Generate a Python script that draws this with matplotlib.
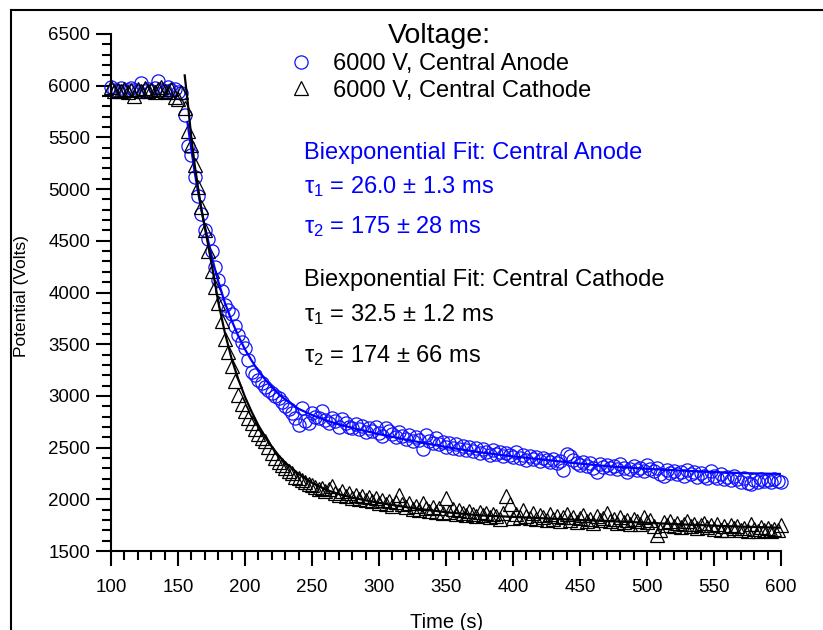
import matplotlib
matplotlib.use('Agg')
from matplotlib import pyplot as plt
from matplotlib.ticker import MultipleLocator
from matplotlib.lines import Line2D

plt.rcParams['font.family'] = ['Liberation Sans', 'DejaVu Sans']
plt.rcParams['mathtext.fontset'] = 'custom'
plt.rcParams['mathtext.rm'] = 'Liberation Sans'
plt.rcParams['mathtext.it'] = 'Liberation Sans'

# sample times (s), shared by both runs
time_s = [
    100, 102.5, 105, 107.5, 110, 112.5, 115, 117.5, 120, 122.5,
    125, 127.5, 130, 132.5, 135, 137.5, 140, 142.5, 145, 147.5,
    150, 152.5, 155, 157.5, 160, 162.5, 165, 167.5, 170, 172.5,
    175, 177.5, 180, 182.5, 185, 187.5, 190, 192.5, 195, 197.5,
    200, 202.5, 205, 207.5, 210, 212.5, 215, 217.5, 220, 222.5,
    225, 227.5, 230, 232.5, 235, 237.5, 240, 242.5, 245, 247.5,
    250, 252.5, 255, 257.5, 260, 262.5, 265, 267.5, 270, 272.5,
    275, 277.5, 280, 282.5, 285, 287.5, 290, 292.5, 295, 297.5,
    300, 302.5, 305, 307.5, 310, 312.5, 315, 317.5, 320, 322.5,
    325, 327.5, 330, 332.5, 335, 337.5, 340, 342.5, 345, 347.5,
    350, 352.5, 355, 357.5, 360, 362.5, 365, 367.5, 370, 372.5,
    375, 377.5, 380, 382.5, 385, 387.5, 390, 392.5, 395, 397.5,
    400, 402.5, 405, 407.5, 410, 412.5, 415, 417.5, 420, 422.5,
    425, 427.5, 430, 432.5, 435, 437.5, 440, 442.5, 445, 447.5,
    450, 452.5, 455, 457.5, 460, 462.5, 465, 467.5, 470, 472.5,
    475, 477.5, 480, 482.5, 485, 487.5, 490, 492.5, 495, 497.5,
    500, 502.5, 505, 507.5, 510, 512.5, 515, 517.5, 520, 522.5,
    525, 527.5, 530, 532.5, 535, 537.5, 540, 542.5, 545, 547.5,
    550, 552.5, 555, 557.5, 560, 562.5, 565, 567.5, 570, 572.5,
    575, 577.5, 580, 582.5, 585, 587.5, 590, 592.5, 595, 597.5,
    600,
]

anode_v = [
    5985, 5960, 5950, 5975, 5945, 5960, 5980, 5955, 5945, 6030,
    5950, 5965, 5945, 5975, 6050, 5960, 5945, 5985, 5955, 5965,
    5940, 5930, 5720, 5420, 5330, 5120, 4930, 4760, 4600, 4520,
    4400, 4250, 4120, 4010, 3880, 3830, 3790, 3680, 3590, 3520,
    3460, 3350, 3230, 3200, 3150, 3120, 3090, 3060, 3030, 3000,
    2980, 2940, 2900, 2870, 2830, 2790, 2720, 2880, 2760, 2740,
    2830, 2800, 2790, 2850, 2770, 2740, 2790, 2760, 2700, 2780,
    2740, 2700, 2690, 2730, 2680, 2710, 2650, 2690, 2660, 2700,
    2640, 2610, 2690, 2660, 2630, 2600, 2650, 2610, 2580, 2620,
    2560, 2600, 2570, 2490, 2620, 2560, 2540, 2590, 2530, 2550,
    2510, 2540, 2500, 2530, 2490, 2520, 2480, 2510, 2470, 2500,
    2450, 2490, 2460, 2430, 2480, 2440, 2460, 2420, 2450, 2430,
    2410, 2460, 2400, 2430, 2380, 2420, 2390, 2410, 2370, 2400,
    2380, 2360, 2390, 2350, 2370, 2280, 2440, 2420, 2380, 2350,
    2330, 2360, 2320, 2350, 2300, 2260, 2340, 2310, 2330, 2300,
    2320, 2290, 2340, 2300, 2260, 2290, 2320, 2280, 2300, 2270,
    2330, 2290, 2270, 2300, 2240, 2230, 2280, 2250, 2270, 2240,
    2260, 2230, 2280, 2240, 2260, 2220, 2250, 2230, 2210, 2270,
    2230, 2210, 2240, 2200, 2220, 2190, 2230, 2200, 2170, 2210,
    2160, 2150, 2190, 2170, 2200, 2180, 2190, 2170, 2200, 2180,
    2170,
]

cathode_v = [
    5990, 5950, 5960, 5945, 5970, 5940, 5955, 5900, 5965, 5950,
    5975, 5945, 5960, 5935, 5970, 5990, 5950, 5940, 5965, 5895,
    5870, 5940, 5780, 5560, 5430, 5230, 5020, 4830, 4600, 4400,
    4210, 4050, 3900, 3720, 3550, 3420, 3290, 3140, 3010, 2920,
    2850, 2790, 2740, 2680, 2630, 2590, 2560, 2510, 2450, 2400,
    2360, 2330, 2300, 2270, 2250, 2220, 2210, 2190, 2170, 2150,
    2140, 2120, 2100, 2110, 2080, 2100, 2130, 2060, 2040, 2080,
    2030, 2060, 2010, 2040, 2000, 2030, 1990, 2020, 1980, 2010,
    1960, 1990, 1950, 1980, 1940, 1970, 2040, 1950, 1930, 1960,
    1910, 1940, 1900, 1960, 1920, 1890, 1930, 1880, 1920, 1870,
    2010, 1880, 1910, 1860, 1900, 1870, 1850, 1890, 1860, 1840,
    1880, 1850, 1870, 1830, 1860, 1840, 1810, 1870, 2030, 1950,
    1820, 1860, 1830, 1900, 1840, 1820, 1870, 1810, 1850, 1830,
    1800, 1860, 1810, 1840, 1790, 1830, 1860, 1800, 1830, 1780,
    1820, 1850, 1790, 1810, 1770, 1840, 1800, 1820, 1870, 1790,
    1810, 1770, 1830, 1780, 1800, 1760, 1810, 1790, 1760, 1830,
    1780, 1800, 1740, 1650, 1700, 1780, 1750, 1790, 1740, 1770,
    1730, 1760, 1790, 1740, 1760, 1720, 1750, 1770, 1730, 1750,
    1710, 1760, 1700, 1740, 1700, 1750, 1720, 1740, 1700, 1720,
    1690, 1760, 1710, 1690, 1730, 1700, 1720, 1690, 1710, 1700,
    1750,
]

# biexponential fit curves
anode_fit_t = [157, 160, 162.5, 165, 167.5, 170, 172.5, 175, 177.5, 180,
               185, 190, 195, 200, 205, 210, 215, 220, 225, 230,
               240, 250, 260, 270, 280, 290, 300, 325, 350, 375,
               400, 425, 450, 475, 500, 525, 550, 575, 600]
anode_fit_v = [5650, 5380, 5160, 4970, 4800, 4640, 4500, 4360, 4230, 4110,
               3900, 3730, 3580, 3450, 3340, 3240, 3160, 3085, 3020, 2965,
               2875, 2815, 2765, 2725, 2690, 2660, 2630, 2565, 2505, 2455,
               2415, 2380, 2345, 2315, 2295, 2278, 2263, 2252, 2245]

cathode_fit_t = [155, 157.5, 160, 162.5, 165, 167.5, 170, 172.5, 175, 177.5,
                 180, 185, 190, 195, 200, 205, 210, 215, 220, 225,
                 230, 240, 250, 260, 270, 280, 290, 300, 325, 350,
                 375, 400, 425, 450, 475, 500, 525, 550, 575, 600]
cathode_fit_v = [6100, 5810, 5490, 5230, 5010, 4800, 4630, 4460, 4280, 4100,
                 3910, 3610, 3360, 3160, 2990, 2845, 2715, 2605, 2510, 2425,
                 2355, 2245, 2160, 2095, 2050, 2015, 1990, 1965, 1915, 1875,
                 1845, 1830, 1815, 1800, 1787, 1773, 1758, 1745, 1734, 1725]

W, H = 823, 630
fig = plt.figure(figsize=(W / 100, H / 100), dpi=100)
ax = fig.add_axes([111 / W, 1 - 551 / H, (781 - 111) / W, (551 - 34) / H])

ax.plot(time_s, anode_v, 'o', ms=9.5, mfc='none', mec='#1010ff', mew=0.9,
        clip_on=False, label='6000 V, Central Anode')
ax.plot(time_s, cathode_v, '^', ms=10, mfc='none', mec='black', mew=0.9,
        clip_on=False, label='6000 V, Central Cathode')
ax.plot(anode_fit_t, anode_fit_v, '-', color='#0000ff', lw=1.6)
ax.plot(cathode_fit_t, cathode_fit_v, '-', color='black', lw=1.6)

ax.set_xlim(100, 600)
ax.set_ylim(1500, 6500)
ax.xaxis.set_major_locator(MultipleLocator(50))
ax.xaxis.set_minor_locator(MultipleLocator(10))
ax.yaxis.set_major_locator(MultipleLocator(500))
ax.yaxis.set_minor_locator(MultipleLocator(100))
for s in ['top', 'right']:
    ax.spines[s].set_visible(False)
for s in ['left', 'bottom']:
    ax.spines[s].set_linewidth(1.5)
ax.tick_params(which='major', direction='out', length=10.8, width=1.5, labelsize=13.5)
ax.tick_params(which='minor', direction='out', length=6.5, width=1.5)
ax.tick_params(axis='x', which='major', pad=9)
ax.tick_params(axis='y', which='major', pad=4)

fig.text(447 / W, 1 - 622 / H, 'Time (s)', ha='center', va='center', fontsize=14.5)
fig.text(22 / W, 1 - 296 / H, 'Potential (Volts)', ha='center', va='center',
         rotation=90, fontsize=12.5)

leg = ax.legend(loc='upper left', bbox_to_anchor=(287 / W, 1 - 23 / H),
                bbox_transform=fig.transFigure, frameon=False, fontsize=17,
                title='Voltage:', title_fontsize=20.5, handlelength=1.2,
                handletextpad=0.75, labelspacing=0.18, borderpad=0,
                borderaxespad=0)

txt = [
    (153, 'Biexponential Fit: Central Anode', '#0000ff'),
    (187, r'$\tau_1$ = 26.0 ± 1.3 ms', '#0000ff'),
    (227, r'$\tau_2$ = 175 ± 28 ms', '#0000ff'),
    (280, 'Biexponential Fit: Central Cathode', 'black'),
    (315, r'$\tau_1$ = 32.5 ± 1.2 ms', 'black'),
    (356, r'$\tau_2$ = 174 ± 66 ms', 'black'),
]
for y, s, c in txt:
    fig.text(304 / W, 1 - y / H, s, color=c, fontsize=17, ha='left', va='center')

# outer frame (left and top edges visible)
fig.add_artist(Line2D([11 / W, 11 / W], [0, 1 - 10 / H], transform=fig.transFigure,
                      color='black', lw=1.5))
fig.add_artist(Line2D([11 / W, 1], [1 - 10 / H, 1 - 10 / H], transform=fig.transFigure,
                      color='black', lw=1.5))

fig.savefig('out.png', dpi=100)
